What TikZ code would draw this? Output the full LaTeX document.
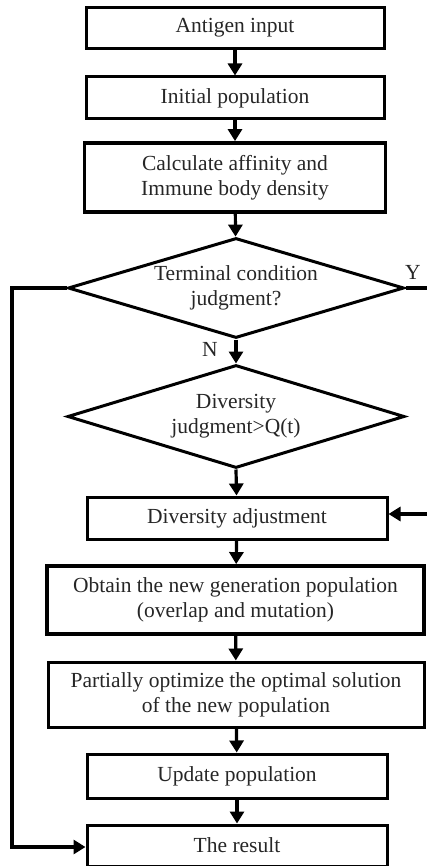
\documentclass[tikz,border=0pt]{standalone}
\usepackage{fontspec}
\setmainfont{Liberation Serif}
\usetikzlibrary{shapes.geometric,arrows.meta}
\begin{document}
\begin{tikzpicture}[x=1pt,y=-1pt,
  every node/.style={font=\fontsize{21.5}{25}\selectfont, text=black!85},
  procbox/.style={draw=black, line width=3pt, rectangle, inner sep=0pt, align=center},
  decbox/.style={draw=black, line width=3pt, diamond, inner sep=0pt, aspect=3.36, align=center},
  flow/.style={line width=3.2pt, -{Triangle[width=14pt,length=12pt]}},
  plain/.style={line width=3.2pt}
]
\useasboundingbox (0,0) rectangle (427,866);
\node[procbox, minimum width=298pt, minimum height=41pt] (a) at (235,28) {Antigen input};
\node[procbox, minimum width=298pt, minimum height=42pt] (b) at (235,98) {Initial population};
\node[procbox, minimum width=301pt, minimum height=69pt, line width=3.8pt] (c) at (235,177.5) {Calculate affinity and\\Immune body density};
\node[decbox, minimum width=336pt, minimum height=100pt] (d1) at (236,288) {Terminal condition\\judgment?};
\node[decbox, minimum width=337pt, minimum height=103pt] (d2) at (236,416.5) {Diversity\\judgment>Q(t)};
\node[procbox, minimum width=300pt, minimum height=42pt] (e) at (237,518) {Diversity adjustment};
\node[procbox, minimum width=377pt, minimum height=68pt, line width=3.8pt] (f) at (235.5,600) {Obtain the new generation population\\(overlap and mutation)};
\node[procbox, minimum width=376pt, minimum height=65pt] (g) at (236,694.5) {Partially optimize the optimal solution\\of the new population};
\node[procbox, minimum width=300pt, minimum height=44pt] (h) at (237,776) {Update population};
\node[procbox, minimum width=300pt, minimum height=41pt] (i) at (237,845.5) {The result};

\coordinate (lt) at (12,288);
\coordinate (lb) at (12,847);
\coordinate (yend) at (427,288);
\coordinate (rin) at (427,514);

\draw[flow] (a) -- (b);
\draw[flow] (b) -- (c);
\draw[flow] (c) -- (d1);
\draw[flow] (d1.south) -- (d2.north);
\draw[flow] (d2.south) -- (e);
\draw[flow] (e) -- (f);
\draw[flow] (f) -- (g);
\draw[flow] (g) -- (h);
\draw[flow] (h) -- (i);
\draw[flow] (d1.west) -- (lt) -- (lb) -- (lb -| i.west);
\draw[plain] (d1.east) -- (yend);
\draw[flow] (rin) -- (rin -| e.east);

\node (ylab) at (413,272) {Y};
\node (nlab) at (210,349) {N};
\end{tikzpicture}
\end{document}
